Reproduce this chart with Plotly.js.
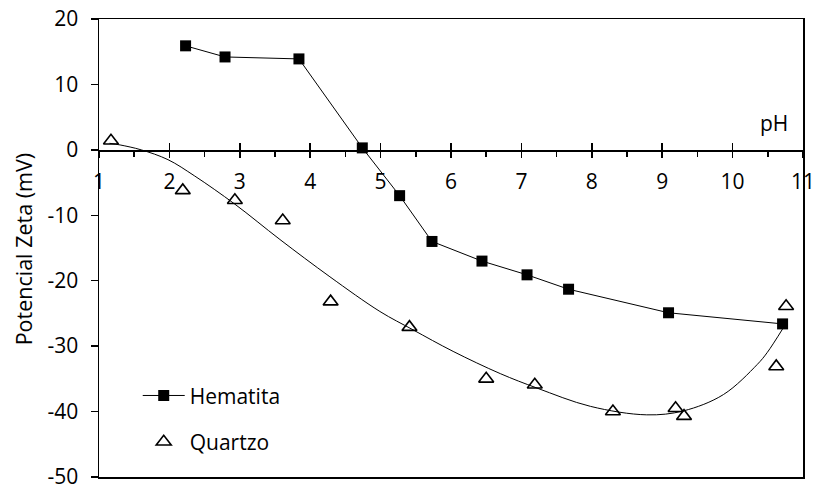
<!DOCTYPE html>
<html>
<head>
<meta charset="utf-8">
<script src="https://cdn.plot.ly/plotly-3.0.1.min.js"></script>
<style>html,body{margin:0;padding:0;background:#fff;}#chart{width:815px;height:490px;}</style>
</head>
<body>
<div id="chart"></div>
<script>
// Hematita (squares, straight segments)
var hemX = [2.23, 2.79, 3.84, 4.74, 5.27, 5.73, 6.44, 7.08, 7.67, 9.09, 10.71];
var hemY = [15.9, 14.2, 13.9, 0.3, -7.0, -14.0, -17.0, -19.1, -21.3, -24.9, -26.6];
// Quartzo (open triangles)
var quaX = [1.17, 2.19, 2.93, 3.61, 4.29, 5.41, 6.50, 7.19, 8.30, 9.19, 9.31, 10.62, 10.76];
var quaY = [1.4, -6.2, -7.7, -10.8, -23.2, -27.1, -35.0, -35.9, -40.0, -39.5, -40.7, -33.1, -23.9];
// Quartzo trend curve
var trendX = [1.15, 1.30, 1.60, 1.98, 2.36, 2.93, 3.57, 4.28, 4.99, 5.46, 6.03, 6.70, 7.22, 7.98, 8.78, 9.30, 9.87, 10.35, 10.49, 10.72];
var trendY = [1.0, 0.75, 0.0, -1.5, -4.0, -8.3, -13.7, -19.4, -24.7, -27.5, -30.8, -34.2, -36.4, -39.2, -40.5, -39.9, -37.4, -32.8, -31.0, -27.2];

var xTicks = [1, 2, 3, 4, 5, 6, 7, 8, 9, 10, 11];
var yTicks = [-50, -40, -30, -20, -10, 0, 10, 20];

var FONT = 'Open Sans, sans-serif';
var FS = 21;
var zeroPos = (0 - (-50)) / (20 - (-50));

var traces = [
  {x: trendX, y: trendY, mode: 'lines', line: {color: '#000', width: 1, shape: 'spline', smoothing: 1}, showlegend: false, hoverinfo: 'skip'},
  {x: hemX, y: hemY, name: 'Hematita', mode: 'lines+markers', legendgroup: 'a',
   line: {color: '#000', width: 1}, marker: {symbol: 'square', size: 11, color: '#000'}},
  {x: quaX, y: quaY, name: 'Quartzo', mode: 'markers', legendgroup: 'b',
   marker: {symbol: 'triangle-up-open', size: 13, color: '#000', line: {color: '#000', width: 1.6}}}
];

var layout = {
  width: 815, height: 490,
  margin: {l: 99, r: 12, t: 19, b: 13},
  paper_bgcolor: '#fff', plot_bgcolor: '#fff',
  font: {family: FONT, size: FS, color: '#000'},
  showlegend: true,
  legend: {x: 0.055, xanchor: 'left', y: 0.222, yanchor: 'top', bgcolor: 'rgba(0,0,0,0)',
           itemwidth: 42, tracegroupgap: 16, traceorder: 'grouped', font: {family: FONT, size: FS}},
  xaxis: {range: [1, 11], anchor: 'free', position: zeroPos, tickmode: 'array', tickvals: xTicks,
          ticktext: xTicks.map(String), ticks: 'outside', ticklen: 6, tickwidth: 1.5, tickcolor: '#000',
          ticklabelstandoff: 6, ticklabeloverflow: 'allow',
          minor: {dtick: 0.5, tick0: 0.5, ticks: 'outside', ticklen: 5, tickwidth: 1.5, tickcolor: '#000'},
          showline: true, linecolor: '#000', linewidth: 1.7, showgrid: false, zeroline: false,
          tickfont: {family: FONT, size: FS}, fixedrange: true},
  xaxis2: {range: [1, 11], overlaying: 'x', anchor: 'free', position: zeroPos, tickmode: 'array', tickvals: xTicks,
           ticks: 'inside', ticklen: 7, tickwidth: 1.5, tickcolor: '#000', showticklabels: false,
           showline: false, showgrid: false, zeroline: false},
  xaxis3: {range: [1, 11], overlaying: 'x', anchor: 'y', side: 'bottom', showline: true, mirror: true,
           linecolor: '#000', linewidth: 1.5, ticks: '', showticklabels: false, showgrid: false, zeroline: false},
  yaxis: {range: [-50, 20], tickmode: 'array', tickvals: yTicks, ticktext: yTicks.map(String),
          ticks: 'outside', ticklen: 7, tickwidth: 1.5, tickcolor: '#000', ticklabelstandoff: 8,
          ticklabeloverflow: 'allow',
          showline: true, mirror: true, linecolor: '#000', linewidth: 1.5, showgrid: false, zeroline: false,
          tickfont: {family: FONT, size: FS}},
  annotations: [
    {x: 10.59, y: 4.1, xref: 'x', yref: 'y', text: 'pH', showarrow: false,
     font: {family: FONT, size: FS, color: '#000'}},
    {x: -0.108, y: 0.497, xref: 'paper', yref: 'paper', text: 'Potencial Zeta (mV)', textangle: -90,
     showarrow: false, xanchor: 'center', yanchor: 'middle', font: {family: FONT, size: 21.5, color: '#000'}}
  ]
};

// dummy traces to activate the helper axes
traces.push({x: [1], y: [0], xaxis: 'x2', mode: 'markers', marker: {opacity: 0}, showlegend: false, hoverinfo: 'skip'});
traces.push({x: [1], y: [0], xaxis: 'x3', mode: 'markers', marker: {opacity: 0}, showlegend: false, hoverinfo: 'skip'});

Plotly.newPlot('chart', traces, layout, {displayModeBar: false, staticPlot: true});
</script>
</body>
</html>
